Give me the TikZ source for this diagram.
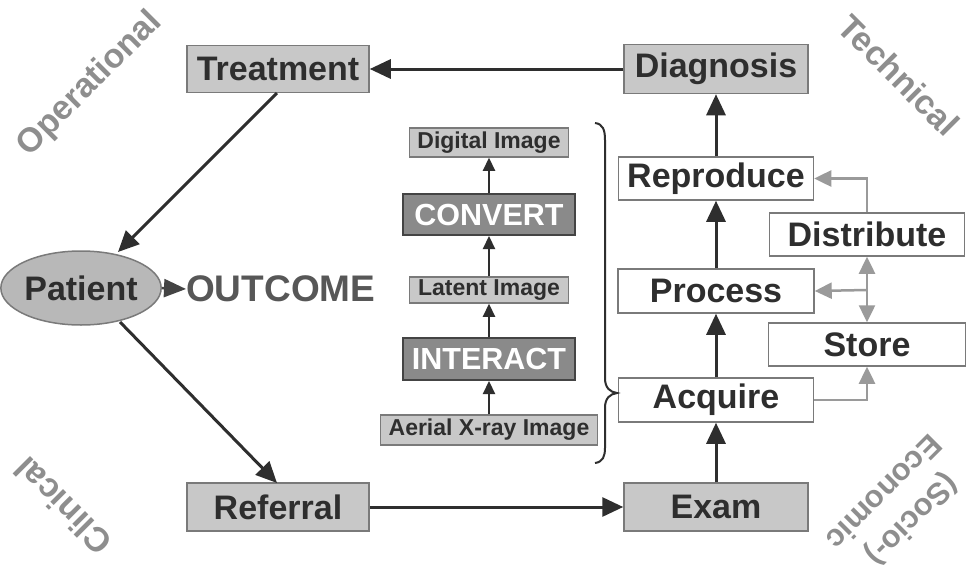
\documentclass[tikz,border=0pt]{standalone}
\usepackage{fontspec}
\setmainfont{Liberation Sans}
\usetikzlibrary{arrows.meta,shapes.geometric}
\definecolor{boxfill}{HTML}{C8C8C8}
\definecolor{boxline}{HTML}{7A7A7A}
\definecolor{txt}{HTML}{2E2E2E}
\definecolor{darkfill}{HTML}{8A8A8A}
\definecolor{darkline}{HTML}{444444}
\definecolor{graya}{HTML}{9A9A9A}
\definecolor{lbl}{HTML}{8E8E8E}
\tikzset{
  big/.style={font=\fontsize{34}{36}\selectfont\bfseries, text=txt},
  small/.style={font=\fontsize{23}{25}\selectfont\bfseries, text=txt},
  graybox/.style={draw=boxline, line width=1.5pt, fill=boxfill, inner sep=0pt, rectangle},
  whitebox/.style={draw=boxline, line width=1.5pt, fill=white, inner sep=0pt, rectangle},
  darkbox/.style={draw=darkline, line width=2pt, fill=darkfill, inner sep=0pt, rectangle, font=\fontsize{30.5}{32}\selectfont\bfseries, text=white},
  sz/.style 2 args={minimum width=#1pt, minimum height=#2pt},
  barr/.style={draw=txt, line width=3pt, -{Triangle[length=21pt,width=19pt]}},
  marr/.style={draw=txt, line width=2.2pt, -{Triangle[length=13pt,width=12pt]}},
  garr/.style={draw=graya, line width=2.5pt, -{Triangle[length=17pt,width=16pt]}},
  garrb/.style={draw=graya, line width=2.5pt, {Triangle[length=17pt,width=16pt]}-{Triangle[length=17pt,width=16pt]}},
  corner/.style={font=\fontsize{34}{40}\selectfont\bfseries, text=lbl, align=center},
}
\begin{document}
\begin{tikzpicture}[x=1pt,y=-1pt]
\useasboundingbox[fill=white] (0,0) rectangle (975,568);
% main boxes
\node[graybox, big, sz={182}{47}] (treat) at (278,69) {Treatment};
\node[graybox, big, sz={184}{49}] (diag) at (716,69) {Diagnosis};
\node[whitebox, big, sz={195}{43}] (repr) at (716,178.5) {Reproduce};
\node[whitebox, big, sz={195}{43}] (dist) at (867,234.5) {Distribute};
\node[whitebox, big, sz={196}{44}] (proc) at (716,291) {Process};
\node[whitebox, big, sz={197}{43}] (store) at (867,344.5) {Store};
\node[whitebox, big, sz={195}{44}] (acq) at (716,400) {Acquire};
\node[graybox, big, sz={184}{48}] (exam) at (716,507) {Exam};
\node[graybox, big, sz={182}{48}] (ref) at (278,507) {Referral};
\node[ellipse, draw=boxline, line width=1.5pt, fill=boxfill!92!black, inner sep=0pt, big, sz={132}{74}] (pat) at (81,288) {Patient};
\node[anchor=west, inner sep=0pt, font=\fontsize{37}{40}\selectfont\bfseries, text=darkline!90!white] (out) at (186,289) {OUTCOME};
% middle column
\node[graybox, small, sz={159}{29}] (dig) at (489,142.5) {Digital Image};
\node[darkbox, sz={172}{41}] (conv) at (489,214.5) {CONVERT};
\node[graybox, small, sz={159}{26}] (lat) at (489,290) {Latent Image};
\node[darkbox, sz={172}{42}] (inter) at (489,359) {INTERACT};
\node[graybox, small, sz={217}{30}] (aer) at (489,430) {Aerial X-ray Image};
% corner labels
\node[corner, rotate=45] (op) at (90,84) {Operational};
\node[corner, rotate=-45] (tech) at (899,75) {Technical};
\node[corner, rotate=135] (clin) at (63,506) {Clinical};
\node[corner, rotate=225, font=\fontsize{31}{40}\selectfont\bfseries] (socio) at (899,507) {(Socio-)\\Economic};
% black connectors
\coordinate (ts) at (277,93);
\coordinate (pn) at (118,252);
\coordinate (pse) at (120,322);
\coordinate (rtop) at (277,483);
\draw[barr] (diag) -- (treat);
\draw[barr] (ts) -- (pn);
\draw[barr] (pse) -- (rtop);
\draw[barr] (ref) -- (exam);
\draw[barr] (exam) -- (acq);
\draw[barr] (acq) -- (proc);
\draw[barr] (proc) -- (repr);
\draw[barr] (repr) -- (diag);
\draw[draw=darkline, line width=2.5pt, -{Triangle[length=22pt,width=18pt]}] (pat.east) -- (out.west);
% middle arrows
\draw[marr] (aer) -- (inter);
\draw[marr] (inter) -- (lat);
\draw[marr] (lat) -- (conv);
\draw[marr] (conv) -- (dig);
% gray connectors
\draw[garr] (dist.north) |- (repr.east);
\draw[garrb] (dist.south) -- (store.north);
\coordinate (jn) at (867,290);
\draw[garr] (jn) -- (proc.east);
\draw[garr] (acq.east) -| (store.south);
% brace
\draw[draw=txt, line width=2pt] (595,123) .. controls (603,124) and (605,130) .. (605,140) -- (605,378) .. controls (605,388) and (610,392) .. (617,393) .. controls (610,394) and (605,398) .. (605,408) -- (605,448) .. controls (605,456) and (603,462) .. (595,463);
\end{tikzpicture}
\end{document}
